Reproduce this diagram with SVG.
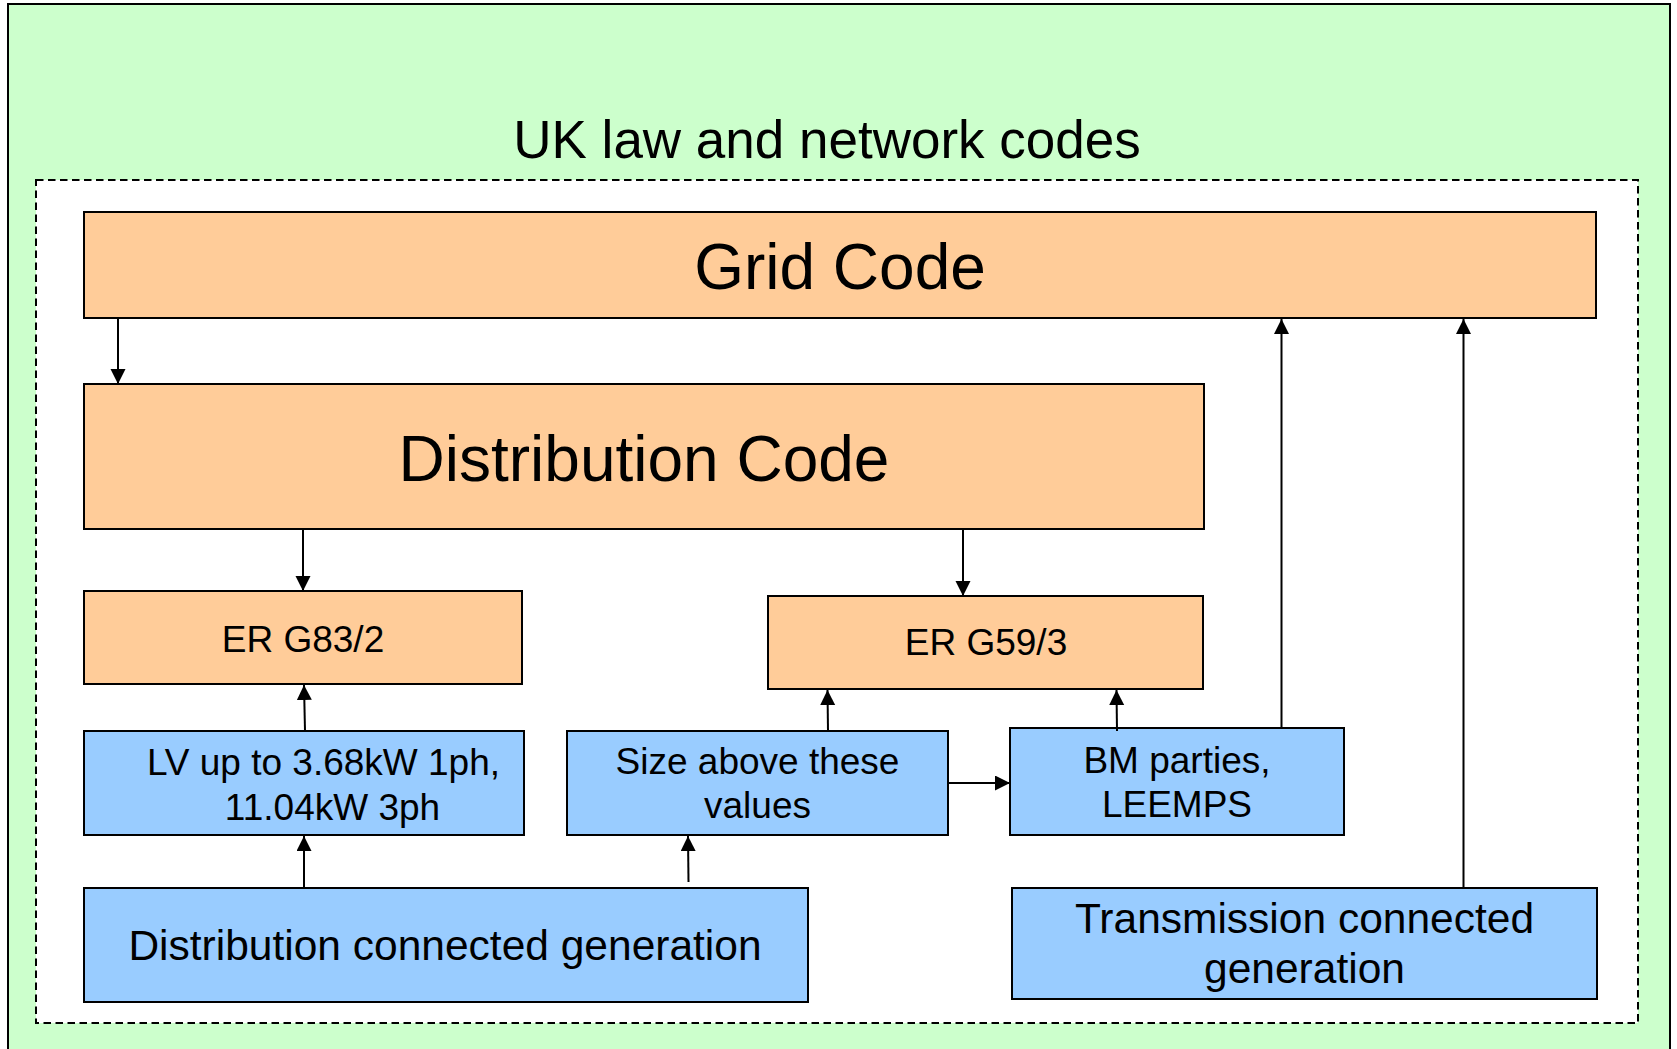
<svg xmlns="http://www.w3.org/2000/svg" width="1677" height="1049" viewBox="0 0 1677 1049">
<defs>
<style>
.t{font-family:"Liberation Sans",Arial,sans-serif;fill:#000;text-anchor:middle}
.or{fill:#FFCC99;stroke:#000;stroke-width:2}
.bl{fill:#99CCFF;stroke:#000;stroke-width:2}
.c{stroke:#000;stroke-width:2;fill:none;marker-end:url(#ah)}
</style>
<marker id="ah" markerUnits="userSpaceOnUse" markerWidth="16" markerHeight="16" refX="15" refY="7.5" orient="auto">
<path d="M0,0 L15,7.5 L0,15 Z" fill="#000"/>
</marker>
</defs>
<rect x="0" y="0" width="1677" height="1049" fill="#FFFFFF"/>
<g id="outer">
<rect x="8" y="4" width="1662" height="1060" fill="#CCFFCC" stroke="#000" stroke-width="2"/>
<text class="t" x="827" y="158" font-size="53">UK law and network codes</text>
</g>
<g id="frame">
<rect x="36" y="180" width="1602" height="843" fill="#FFFFFF" stroke="#000" stroke-width="2" stroke-dasharray="7.5 4.5"/>
</g>
<g id="grid-code">
<rect class="or" x="84" y="212" width="1512" height="106"/>
<text class="t" x="840" y="289" font-size="64">Grid Code</text>
</g>
<g id="distribution-code">
<rect class="or" x="84" y="384" width="1120" height="145"/>
<text class="t" x="644" y="481" font-size="64">Distribution Code</text>
</g>
<g id="er-g83">
<rect class="or" x="84" y="591" width="438" height="93"/>
<text class="t" x="303" y="652" font-size="37">ER G83/2</text>
</g>
<g id="er-g59">
<rect class="or" x="768" y="596" width="435" height="93"/>
<text class="t" x="986" y="655" font-size="37">ER G59/3</text>
</g>
<g id="lv">
<rect class="bl" x="84" y="731" width="440" height="104"/>
<text class="t" x="323.5" y="775" font-size="37">LV up to 3.68kW 1ph,</text>
<text class="t" x="332.5" y="820" font-size="37">11.04kW 3ph</text>
</g>
<g id="size-above">
<rect class="bl" x="567" y="731" width="381" height="104"/>
<text class="t" x="757.5" y="774" font-size="37">Size above these</text>
<text class="t" x="757.5" y="818" font-size="37">values</text>
</g>
<g id="bm-parties">
<rect class="bl" x="1010" y="728" width="334" height="107"/>
<text class="t" x="1177" y="773" font-size="37">BM parties,</text>
<text class="t" x="1177" y="817" font-size="37">LEEMPS</text>
</g>
<g id="dist-gen">
<rect class="bl" x="84" y="888" width="724" height="114"/>
<text class="t" x="445" y="960" font-size="42.5">Distribution connected generation</text>
</g>
<g id="trans-gen">
<rect class="bl" x="1012" y="888" width="585" height="111"/>
<text class="t" x="1304.5" y="933" font-size="42.5">Transmission connected</text>
<text class="t" x="1304.5" y="983" font-size="42.5">generation</text>
</g>
<g id="connectors">
<line class="c" x1="118" y1="319" x2="118" y2="384"/>
<line class="c" x1="303" y1="530" x2="303" y2="591"/>
<line class="c" x1="963" y1="530" x2="963" y2="596"/>
<line class="c" x1="305" y1="731" x2="304" y2="685"/>
<line class="c" x1="828" y1="731" x2="827.5" y2="690"/>
<line class="c" x1="1117" y1="731" x2="1116.5" y2="690"/>
<line class="c" x1="948" y1="783" x2="1010" y2="783"/>
<line class="c" x1="1281.5" y1="728" x2="1281.5" y2="319"/>
<line class="c" x1="1463.5" y1="888" x2="1463.5" y2="319"/>
<line class="c" x1="304" y1="888" x2="304" y2="836"/>
<line class="c" x1="688.5" y1="882" x2="688" y2="836"/>
</g>
</svg>
